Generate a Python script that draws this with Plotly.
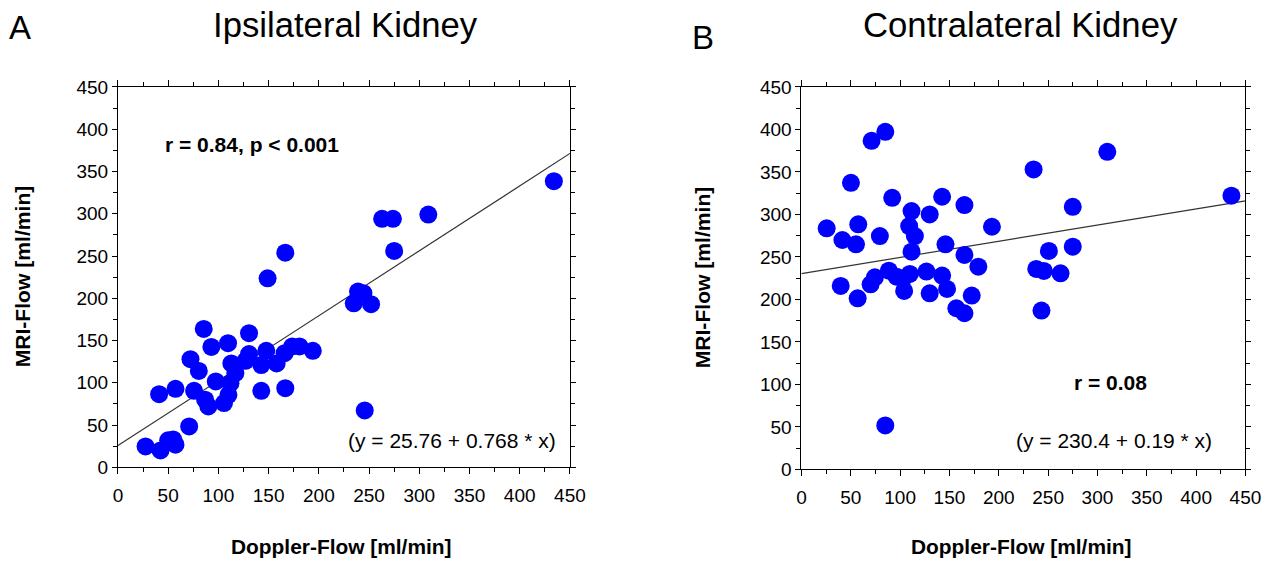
import plotly.graph_objects as go

# The photographed page maps figure pixels to picture pixels as
# picture = A + S * figure (measured with a calibration frame), so the figure is
# made a little larger and every target pixel is converted through that mapping.
W, H = 1297, 574
AX, SX = 4.8, 0.986
AY, SY = 7.9, 0.965

# Panel A: Ipsilateral kidney
ipsi_doppler = [27.5, 42.4, 50, 55, 57.3, 70.9, 41, 57.3, 75.8, 72.2, 80.5, 85.4, 93, 86.8, 90,
                97.4, 105.6, 110, 109.6, 112.9, 112, 116.9, 127, 130.5, 130.5, 142.7, 142.7, 147.7,
                149, 158, 166.6, 166.6, 165.9, 173.5, 180.8, 194, 234.8, 239, 244.4, 252, 245.7,
                263, 273.8, 275, 309, 434]
ipsi_mri = [24.8, 20, 32, 33, 26.8, 48.4, 86.6, 92.9, 90.6, 128, 114, 163.8, 142.5, 80, 72,
            101.6, 76, 85.8, 146.9, 123, 99.6, 111.4, 126, 134, 158.7, 121, 90.6, 137.8,
            223.6, 123, 254, 93.7, 135, 143, 143, 137.8, 194, 208, 206, 193, 67.3,
            294, 294, 256, 299, 338.6]
ipsi_intercept, ipsi_slope = 25.76, 0.768

# Panel B: Contralateral kidney
contra_doppler = [25.6, 41.5, 39.8, 50.2, 57.6, 55.3, 57, 71.1, 85, 79.5, 70.1, 74.5, 92, 88.6,
                  96.4, 104.1, 103.1, 109.9, 111.6, 109.2, 115, 111.6, 85, 126.7, 130, 130, 142.6,
                  146, 142.6, 147.6, 165.2, 165.2, 157, 165.2, 172.6, 179.3, 193.1, 235.3, 238,
                  245.7, 250.8, 243.3, 262.6, 275, 275, 310, 435.8]
contra_mri = [283.6, 269.9, 215.8, 337.2, 288.3, 264.8, 201.3, 386.6, 397.2, 274.6, 217.8, 226,
              319.6, 233.8, 226.8, 210, 224.8, 230, 304, 286.3, 274.6, 256.2, 51.7, 232.7, 300,
              207.2, 320.8, 264.8, 228, 212.3, 311, 252.3, 189.6, 183.7, 204.5, 238.5, 285.5,
              352.9, 235.8, 233.5, 257, 186.8, 230.7, 309, 262, 373.7, 322]
contra_intercept, contra_slope = 230.4, 0.19

x_range = [0, 450]
tick_vals = [0, 50, 100, 150, 200, 250, 300, 350, 400, 450]

fig = go.Figure()

def add_panel(xs, ys, b0, b1, xa, ya):
    fig.add_trace(go.Scatter(x=x_range, y=[b0 + b1 * v for v in x_range], mode="lines",
                             xaxis=xa, yaxis=ya, line=dict(color="#333333", width=1.2),
                             showlegend=False, hoverinfo="skip"))
    fig.add_trace(go.Scatter(x=xs, y=ys, mode="markers", xaxis=xa, yaxis=ya,
                             marker=dict(color="#0000FF", size=18, line=dict(width=0)),
                             showlegend=False, hoverinfo="skip"))

add_panel(ipsi_doppler, ipsi_mri, ipsi_intercept, ipsi_slope, "x", "y")
add_panel(contra_doppler, contra_mri, contra_intercept, contra_slope, "x2", "y2")

tickfont = dict(family="Liberation Sans, Arial", size=19, color="black")
axis_common = dict(range=[0, 450], tickvals=tick_vals, showline=True, linecolor="black",
                   linewidth=1, mirror="ticks", ticks="outside", tickcolor="black",
                   showgrid=False, zeroline=False, tickfont=tickfont,
                   minor=dict(dtick=25, ticks="outside", ticklen=4, tickcolor="black"))

def fx(t):
    return ((t - AX) / SX) / W

def fy(t):
    return 1 - ((t - AY) / SY) / H

fig.update_layout(
    width=W, height=H, plot_bgcolor="white", paper_bgcolor="white",
    margin=dict(l=0, r=0, t=0, b=0),
    xaxis=dict(domain=[fx(118), fx(571)], anchor="y", ticklen=6,
               ticklabelstandoff=5, **axis_common),
    yaxis=dict(domain=[fy(466), fy(85)], anchor="x", ticklen=5, **axis_common),
    xaxis2=dict(domain=[fx(803), fx(1248)], anchor="y2", ticklen=6,
                ticklabelstandoff=5, **axis_common),
    yaxis2=dict(domain=[fy(468), fy(85)], anchor="x2", ticklen=5, **axis_common),
)

def ann(text, px, py, size, bold=False, rotate=0):
    fig.add_annotation(text=f"<b>{text}</b>" if bold else text,
                       x=fx(px), y=fy(py - 2), xref="paper", yref="paper",
                       showarrow=False, xanchor="center", yanchor="middle", textangle=rotate,
                       font=dict(family="Liberation Sans, Arial", size=size, color="black"))

ann("A", 20, 27, 33)
ann("Ipsilateral Kidney", 346, 25, 34.7)
ann("B", 704, 37.5, 33)
ann("Contralateral Kidney", 1023, 25, 34.7)
ann("MRI-Flow [ml/min]", 22.5, 277, 21.1, bold=True, rotate=-90)
ann("MRI-Flow [ml/min]", 704, 278, 21.1, bold=True, rotate=-90)
ann("Doppler-Flow [ml/min]", 342.5, 547, 20.9, bold=True)
ann("Doppler-Flow [ml/min]", 1024, 547, 20.9, bold=True)
ann("r = 0.84, p < 0.001", 252.5, 145, 21, bold=True)
ann("(y = 25.76 + 0.768 * x)", 453, 441, 21)
ann("r = 0.08", 1112.5, 383, 21, bold=True)
ann("(y = 230.4 + 0.19 * x)", 1116.5, 441, 21)

fig.write_html("out.html")
